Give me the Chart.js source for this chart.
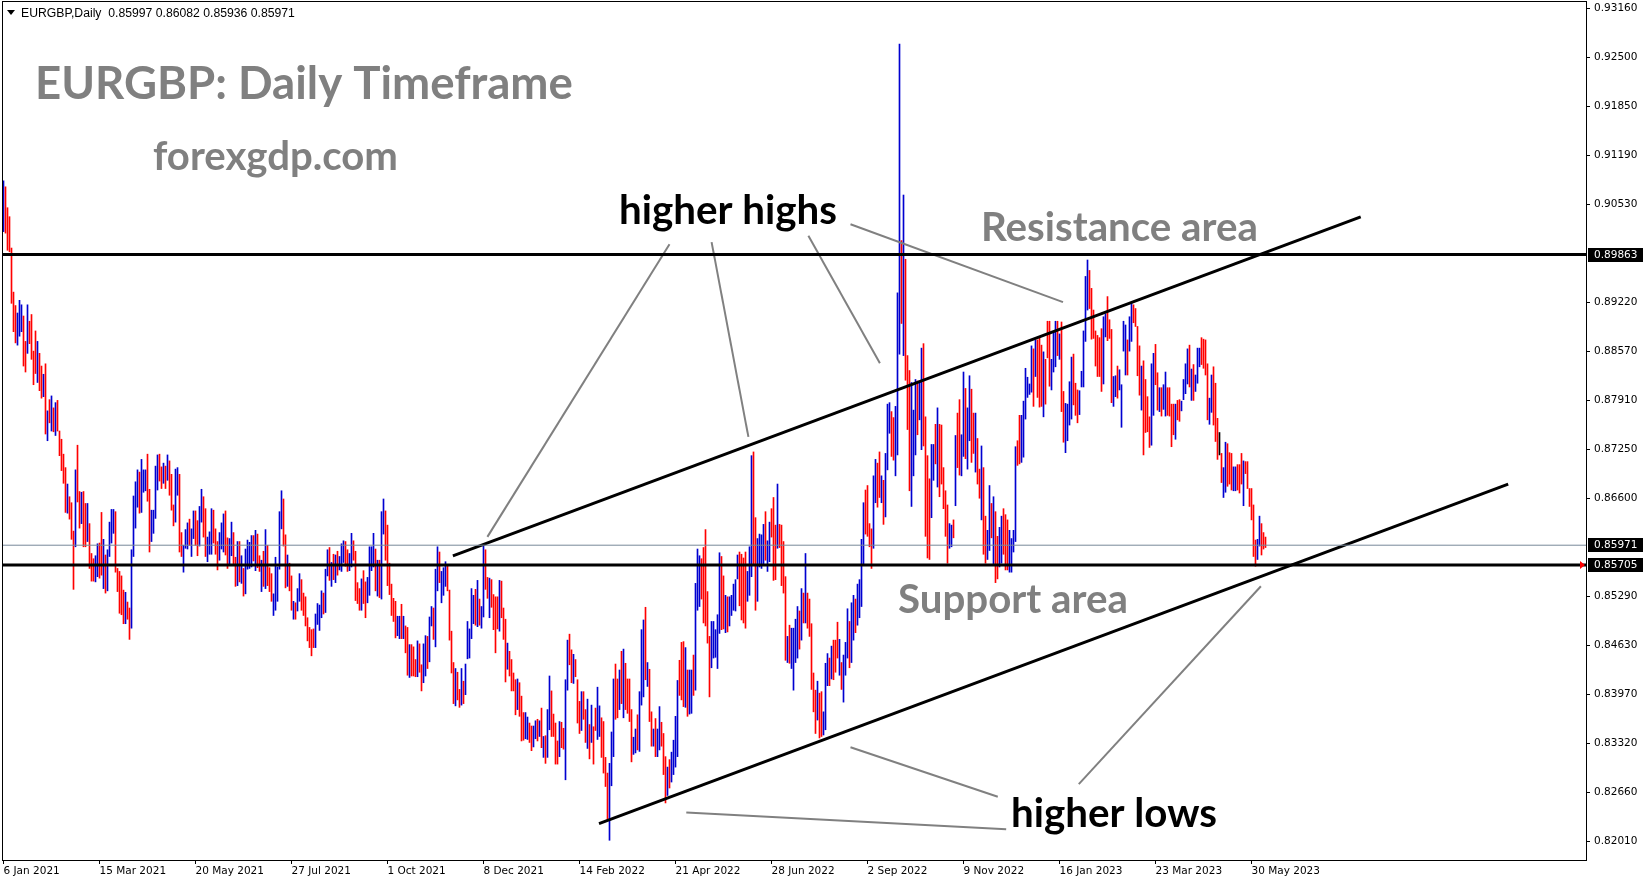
<!DOCTYPE html>
<html>
<head>
<meta charset="utf-8">
<title>EURGBP Daily</title>
<script src="https://cdn.jsdelivr.net/npm/chart.js@4.4.1/dist/chart.umd.min.js"></script>
<style>
  html, body { margin: 0; padding: 0; background: #fff; }
  #wrap { position: relative; width: 1650px; height: 884px; }
</style>
</head>
<body>
<div id="wrap"><canvas id="chart" width="1650" height="884"></canvas></div>
<script>
// daily bar highs (one per trading day)
var highs = [
  0.9085,0.9077,0.9049,0.9037,0.8995,0.8936,0.8918,0.8908,0.8925,0.8919,
  0.8904,0.8870,0.8919,0.8897,0.8906,0.8857,0.8884,0.8870,0.8854,0.8837,
  0.8826,0.8840,0.8777,0.8792,0.8797,0.8781,0.8788,0.8791,0.8750,0.8739,
  0.8719,0.8701,0.8679,0.8662,0.8654,0.8616,0.8698,0.8731,0.8669,0.8668,
  0.8669,0.8653,0.8653,0.8626,0.8586,0.8579,0.8583,0.8599,0.8600,0.8641,
  0.8605,0.8584,0.8591,0.8628,0.8645,0.8645,0.8642,0.8566,0.8562,0.8556,
  0.8537,0.8534,0.8521,0.8513,0.8591,0.8663,0.8682,0.8698,0.8695,0.8712,
  0.8698,0.8698,0.8719,0.8672,0.8644,0.8644,0.8703,0.8718,0.8719,0.8702,
  0.8707,0.8703,0.8718,0.8710,0.8692,0.8651,0.8699,0.8701,0.8692,0.8614,
  0.8597,0.8618,0.8627,0.8632,0.8619,0.8643,0.8643,0.8630,0.8649,0.8672,
  0.8662,0.8646,0.8608,0.8615,0.8646,0.8644,
  0.8619,0.8602,0.8614,0.8627,0.8639,0.8643,0.8607,0.8606,0.8628,0.8614,
  0.8581,0.8602,0.8602,0.8583,0.8566,0.8592,0.8604,0.8601,0.8610,0.8610,
  0.8617,0.8612,0.8583,0.8577,0.8589,0.8618,0.8597,0.8567,0.8559,0.8532,
  0.8581,0.8568,0.8642,0.8670,0.8659,0.8611,0.8584,0.8573,0.8556,0.8522,
  0.8520,0.8539,0.8559,0.8551,0.8533,0.8528,0.8500,0.8487,0.8484,0.8485,
  0.8505,0.8519,0.8517,0.8536,0.8533,0.8565,0.8591,0.8594,0.8574,0.8585,
  0.8584,0.8589,0.8582,0.8599,0.8603,0.8602,0.8591,0.8586,0.8613,0.8603,
  0.8589,0.8547,0.8539,0.8552,0.8563,0.8548,0.8554,0.8595,0.8595,0.8613,
  0.8592,0.8577,0.8577,0.8642,0.8659,0.8643,0.8624,0.8573,0.8545,0.8526,
  0.8522,0.8502,0.8502,0.8518,0.8502,0.8489,0.8487,0.8464,0.8464,0.8461,
  0.8444,0.8469,0.8465,0.8437,0.8465,
  0.8476,0.8475,0.8501,0.8515,0.8513,0.8565,0.8595,0.8588,0.8562,0.8567,
  0.8575,0.8569,0.8537,0.8482,0.8440,0.8432,0.8427,0.8404,0.8432,0.8415,
  0.8438,0.8495,0.8485,0.8539,0.8530,0.8538,0.8550,0.8525,0.8515,0.8597,
  0.8591,0.8554,0.8553,0.8551,0.8531,0.8528,0.8528,0.8550,0.8549,0.8513,
  0.8498,0.8466,0.8455,0.8444,0.8426,0.8417,0.8418,0.8413,0.8395,0.8373,
  0.8373,0.8367,0.8359,0.8355,0.8355,0.8362,0.8364,0.8362,0.8379,0.8341,
  0.8342,0.8377,0.8422,0.8402,0.8371,0.8359,0.8335,0.8361,0.8360,0.8352,
  0.8417,0.8470,0.8478,0.8457,0.8451,0.8444,0.8417,0.8388,0.8401,0.8401,
  0.8377,0.8391,0.8357,0.8383,0.8354,0.8379,0.8407,0.8382,0.8366,0.8361,
  0.8313,0.8292,0.8305,0.8347,0.8418,0.8438,0.8418,0.8430,0.8455,0.8458,
  0.8439,0.8418,0.8418,0.8377,
  0.8340,0.8351,0.8370,0.8401,0.8484,0.8497,0.8514,0.8440,0.8431,0.8374,
  0.8351,0.8365,0.8351,0.8381,0.8360,0.8345,0.8314,0.8300,0.8310,0.8320,
  0.8336,0.8368,0.8416,0.8443,0.8467,0.8468,0.8460,0.8430,0.8430,0.8430,
  0.8450,0.8546,0.8592,0.8583,0.8579,0.8594,0.8618,0.8535,0.8475,0.8495,
  0.8495,0.8484,0.8504,0.8587,0.8582,0.8556,0.8530,0.8528,0.8528,0.8530,
  0.8545,0.8551,0.8584,0.8588,0.8585,0.8580,0.8588,0.8562,0.8595,0.8717,
  0.8722,0.8634,0.8606,0.8612,0.8611,0.8625,0.8642,0.8603,0.8628,0.8646,
  0.8661,0.8624,0.8679,0.8625,0.8624,0.8602,0.8555,0.8475,0.8490,0.8486,
  0.8486,0.8498,0.8515,0.8509,0.8539,0.8533,0.8586,0.8533,0.8525,0.8492,
  0.8426,0.8403,0.8415,0.8399,0.8401,0.8374,0.8439,0.8452,0.8446,0.8462,
  0.8470,0.8470,0.8494,0.8471,0.8440,0.8450,0.8467,0.8512,0.8495,
  0.8520,0.8530,0.8525,0.8545,0.8551,0.8605,0.8654,0.8671,0.8677,0.8626,
  0.8619,0.8690,0.8712,0.8707,0.8722,0.8690,0.8684,0.8720,0.8786,0.8788,
  0.8776,0.8768,0.8783,0.8935,0.9268,0.9005,0.9066,0.8980,0.8851,0.8831,
  0.8815,0.8778,0.8819,0.8817,0.8817,0.8861,0.8867,0.8769,0.8717,0.8686,
  0.8732,0.8732,0.8759,0.8781,0.8759,0.8758,0.8701,0.8670,0.8651,0.8626,
  0.8624,0.8631,0.8744,0.8774,0.8792,0.8745,0.8829,0.8807,0.8781,0.8824,
  0.8806,0.8774,0.8774,0.8740,0.8699,0.8730,0.8701,0.8636,0.8617,0.8677,
  0.8653,0.8662,0.8642,0.8609,0.8621,0.8636,0.8646,0.8638,0.8631,0.8617,
  0.8606,0.8617,0.8729,0.8737,0.8771,0.8771,0.8790,0.8834,0.8822,0.8813,
  0.8864,0.8860,0.8872,0.8872,0.8875,0.8865,0.8856,0.8846,0.8897,0.8897,
  0.8846,0.8882,0.8897,0.8897,0.8880,
  0.8896,0.8803,0.8787,0.8786,0.8816,0.8849,0.8853,0.8814,0.8805,0.8804,
  0.8830,0.8884,0.8957,0.8979,0.8965,0.8941,0.8912,0.8884,0.8878,0.8875,
  0.8887,0.8903,0.8907,0.8930,0.8899,0.8886,0.8823,0.8824,0.8837,0.8832,
  0.8812,0.8897,0.8892,0.8872,0.8903,0.8921,0.8919,0.8914,0.8890,0.8864,
  0.8837,0.8844,0.8819,0.8796,0.8769,0.8840,0.8854,0.8866,0.8828,0.8808,
  0.8808,0.8812,0.8829,0.8808,0.8808,0.8786,0.8786,0.8786,0.8791,0.8792,
  0.8790,0.8819,0.8840,0.8860,0.8865,0.8833,0.8839,0.8825,0.8861,0.8861,
  0.8875,0.8873,0.8872,0.8840,0.8794,0.8825,0.8836,0.8814,0.8767,0.8748,
  0.8720,0.8701,0.8735,0.8733,0.8721,0.8720,0.8702,0.8702,0.8705,0.8705,
  0.8720,0.8710,0.8709,0.8709,0.8673,0.8673,0.8651,0.8604,0.8605,0.8636,
  0.8626,0.8614,0.8608
];

var lows = [
  0.9017,0.9015,0.8992,0.8990,0.8921,0.8883,0.8868,0.8865,0.8877,0.8883,
  0.8837,0.8829,0.8854,0.8867,0.8846,0.8812,0.8827,0.8815,0.8804,0.8794,
  0.8796,0.8746,0.8737,0.8761,0.8750,0.8749,0.8744,0.8750,0.8717,0.8697,
  0.8680,0.8641,0.8640,0.8632,0.8605,0.8538,0.8595,0.8655,0.8620,0.8626,
  0.8595,0.8595,0.8602,0.8566,0.8549,0.8549,0.8548,0.8555,0.8553,0.8557,
  0.8539,0.8533,0.8536,0.8582,0.8600,0.8613,0.8561,0.8535,0.8506,0.8504,
  0.8492,0.8492,0.8498,0.8471,0.8486,0.8582,0.8620,0.8648,0.8640,0.8641,
  0.8668,0.8670,0.8656,0.8588,0.8602,0.8613,0.8633,0.8671,0.8683,0.8673,
  0.8680,0.8673,0.8684,0.8664,0.8644,0.8623,0.8628,0.8664,0.8588,0.8582,
  0.8561,0.8593,0.8592,0.8597,0.8582,0.8606,0.8597,0.8583,0.8596,0.8628,
  0.8608,0.8582,0.8575,0.8585,0.8585,0.8600,
  0.8585,0.8564,0.8577,0.8592,0.8588,0.8584,0.8566,0.8572,0.8583,0.8571,
  0.8542,0.8543,0.8548,0.8546,0.8529,0.8532,0.8565,0.8566,0.8568,0.8576,
  0.8563,0.8567,0.8562,0.8535,0.8542,0.8539,0.8543,0.8535,0.8522,0.8503,
  0.8510,0.8522,0.8565,0.8619,0.8596,0.8540,0.8542,0.8536,0.8510,0.8498,
  0.8498,0.8509,0.8522,0.8510,0.8503,0.8489,0.8469,0.8460,0.8449,0.8460,
  0.8460,0.8491,0.8483,0.8500,0.8505,0.8507,0.8556,0.8550,0.8542,0.8551,
  0.8547,0.8557,0.8564,0.8562,0.8574,0.8569,0.8562,0.8563,0.8568,0.8577,
  0.8523,0.8519,0.8510,0.8510,0.8519,0.8500,0.8520,0.8530,0.8563,0.8568,
  0.8536,0.8529,0.8527,0.8525,0.8612,0.8577,0.8543,0.8531,0.8503,0.8495,
  0.8473,0.8476,0.8472,0.8472,0.8472,0.8453,0.8423,0.8420,0.8422,0.8422,
  0.8421,0.8421,0.8427,0.8402,0.8413,
  0.8422,0.8432,0.8441,0.8489,0.8471,0.8461,0.8536,0.8547,0.8520,0.8530,
  0.8542,0.8536,0.8470,0.8426,0.8385,0.8382,0.8390,0.8380,0.8383,0.8385,
  0.8397,0.8445,0.8446,0.8472,0.8492,0.8490,0.8488,0.8490,0.8486,0.8501,
  0.8538,0.8526,0.8500,0.8514,0.8484,0.8453,0.8485,0.8482,0.8500,0.8471,
  0.8414,0.8431,0.8422,0.8402,0.8402,0.8370,0.8377,0.8368,0.8335,0.8336,
  0.8338,0.8337,0.8333,0.8322,0.8327,0.8338,0.8335,0.8341,0.8326,0.8313,
  0.8305,0.8313,0.8350,0.8341,0.8341,0.8304,0.8304,0.8314,0.8326,0.8324,
  0.8283,0.8403,0.8437,0.8413,0.8412,0.8421,0.8359,0.8345,0.8349,0.8364,
  0.8333,0.8325,0.8311,0.8333,0.8304,0.8349,0.8337,0.8341,0.8313,0.8292,
  0.8274,0.8229,0.8202,0.8275,0.8314,0.8364,0.8366,0.8377,0.8385,0.8366,
  0.8377,0.8372,0.8361,0.8307,
  0.8317,0.8319,0.8323,0.8321,0.8383,0.8394,0.8417,0.8408,0.8361,0.8328,
  0.8328,0.8314,0.8314,0.8323,0.8328,0.8290,0.8252,0.8262,0.8272,0.8280,
  0.8290,0.8300,0.8314,0.8396,0.8390,0.8381,0.8380,0.8368,0.8371,0.8372,
  0.8396,0.8403,0.8510,0.8515,0.8525,0.8493,0.8489,0.8466,0.8394,0.8433,
  0.8446,0.8447,0.8432,0.8479,0.8484,0.8485,0.8480,0.8481,0.8489,0.8503,
  0.8510,0.8509,0.8552,0.8516,0.8497,0.8493,0.8486,0.8522,0.8530,0.8555,
  0.8571,0.8510,0.8522,0.8568,0.8566,0.8571,0.8577,0.8562,0.8575,0.8608,
  0.8550,0.8551,0.8593,0.8594,0.8543,0.8533,0.8443,0.8440,0.8439,0.8432,
  0.8403,0.8440,0.8446,0.8458,0.8470,0.8493,0.8493,0.8486,0.8475,0.8404,
  0.8374,0.8345,0.8363,0.8339,0.8341,0.8343,0.8350,0.8409,0.8409,0.8418,
  0.8417,0.8427,0.8446,0.8423,0.8404,0.8387,0.8423,0.8446,0.8433,
  0.8440,0.8470,0.8480,0.8490,0.8500,0.8515,0.8571,0.8612,0.8609,0.8595,
  0.8566,0.8593,0.8654,0.8648,0.8661,0.8654,0.8625,0.8635,0.8698,0.8747,
  0.8716,0.8711,0.8690,0.8718,0.8853,0.8894,0.8851,0.8818,0.8752,0.8670,
  0.8649,0.8690,0.8718,0.8745,0.8765,0.8725,0.8730,0.8609,0.8580,0.8578,
  0.8634,0.8684,0.8706,0.8675,0.8662,0.8679,0.8646,0.8609,0.8573,0.8593,
  0.8595,0.8607,0.8650,0.8701,0.8691,0.8690,0.8716,0.8713,0.8699,0.8737,
  0.8708,0.8720,0.8695,0.8679,0.8660,0.8631,0.8585,0.8573,0.8578,0.8590,
  0.8607,0.8571,0.8547,0.8552,0.8568,0.8573,0.8585,0.8564,0.8564,0.8561,
  0.8561,0.8588,0.8602,0.8704,0.8706,0.8708,0.8715,0.8766,0.8795,0.8799,
  0.8802,0.8783,0.8823,0.8795,0.8782,0.8783,0.8769,0.8786,0.8848,0.8810,
  0.8805,0.8829,0.8836,0.8851,0.8846,
  0.8776,0.8735,0.8721,0.8737,0.8758,0.8766,0.8785,0.8771,0.8761,0.8772,
  0.8809,0.8809,0.8870,0.8912,0.8914,0.8873,0.8874,0.8837,0.8823,0.8823,
  0.8803,0.8813,0.8876,0.8871,0.8874,0.8788,0.8783,0.8796,0.8794,0.8805,
  0.8755,0.8857,0.8825,0.8825,0.8857,0.8870,0.8895,0.8890,0.8824,0.8798,
  0.8778,0.8718,0.8748,0.8749,0.8728,0.8731,0.8771,0.8812,0.8778,0.8776,
  0.8770,0.8779,0.8770,0.8771,0.8770,0.8729,0.8745,0.8739,0.8765,0.8763,
  0.8777,0.8792,0.8800,0.8813,0.8809,0.8791,0.8791,0.8803,0.8814,0.8836,
  0.8839,0.8834,0.8825,0.8765,0.8759,0.8775,0.8758,0.8736,0.8712,0.8718,
  0.8681,0.8661,0.8668,0.8676,0.8679,0.8671,0.8670,0.8670,0.8671,0.8667,
  0.8679,0.8650,0.8693,0.8673,0.8649,0.8631,0.8582,0.8569,0.8578,0.8596,
  0.8584,0.8592,0.8594
];

// B = up bar (blue), R = down bar (red), N = unchanged (black)
var barDir = [
  'BRRRRRRBBB', 'RRBRRRRBRR', 'BRBRBRBRRR', 'RRBRRRBRRB', 'RRBRRRBBRR',
  'BRBBBBRRRR', 'RBRRBBBBRB', 'BBRRBBBBRR', 'BRBRRRBBRR', 'BBBRBBRRBB', 'RRBBBR',
  'RRBBBRRBBR', 'RBRBRBBBBR', 'BRRBRBRRRB', 'BBBBRRBRRB', 'RBBRRRRRRR',
  'BBBBRBBRBR', 'BRBBBRRBBR', 'RRRBRRBBBB', 'RBRBBRRRRR', 'RBBRBRRBRR', 'RBRRB',
  'BRBBRBBRBB', 'BRRRRBRRBR', 'BBBBBRBRBB', 'RRBRRRRBRR', 'RBRRRRBRRR',
  'BBRRBBRBRB', 'RBBRRRRBRR', 'BBRRBRRRBR', 'RBRBRRBBRR', 'RRBBBRRBRB', 'RRRR',
  'BBRBBBRBRR', 'BRBBRRRBRB', 'BBBRRRBRBB', 'RBBBRRRRRB', 'BBBBRRBRBB',
  'BBBRRRRBBB', 'RRBBBBRBBR', 'RRBRRRRBRB', 'BBBRBRBRRR', 'RRBRRBBBRB', 'RRRBRBBBR',
  'BBRBBBBRRR', 'RBBRRBRBBB', 'RRBBBRBRRR', 'BBBRBBRRRR', 'BBRBRRRRRB',
  'BRBRRBBRBB', 'RRBRRBRRBB', 'RBRRBBRRRB', 'BBBRRBBBBB', 'BRBRRRBRRR', 'BBBRB',
  'RRBBBBRRRB', 'BBBBRRRRRR', 'RBBRRRBBRB', 'BBBRBBRRRR', 'BRRRRBBRRB',
  'RBBRRRRBRR', 'BBBBRBRBBB', 'RRRRBBRRRN', 'RBBRRRBBRR', 'RBRRRRRRBB', 'RRR'
].join('');

var xTickIdx = [0, 48, 96, 144, 192, 240, 288, 336, 384, 432, 480, 528, 576, 624];
var xTickLabels = ['6 Jan 2021', '15 Mar 2021', '20 May 2021', '27 Jul 2021', '1 Oct 2021',
  '8 Dec 2021', '14 Feb 2022', '21 Apr 2022', '28 Jun 2022', '2 Sep 2022', '9 Nov 2022',
  '16 Jan 2023', '23 Mar 2023', '30 May 2023'];
var yTickValues = [0.93160, 0.92500, 0.91850, 0.91190, 0.90530, 0.89220, 0.88570, 0.87910,
  0.87250, 0.86600, 0.85290, 0.84630, 0.83970, 0.83320, 0.82660, 0.82010];

var lastOhlc = ['0.85997', '0.86082', '0.85936', '0.85971'];
var resistanceLevel = 0.89863;
var supportLevel = 0.85705;
var lastPrice = 0.85971;

// channel lines [bar index, price]
var upperChannel = [[224.7, 0.85829], [678.6, 0.90367]];
var lowerChannel = [[297.75, 0.82243], [752.35, 0.86789]];
// grey pointer lines from the labels to the swing points
var pointerLines = [
  [[333.0, 0.90001], [241.95, 0.86083]],
  [[354.05, 0.90030], [372.45, 0.87422]],
  [[402.45, 0.90114], [438.2, 0.88409]],
  [[423.5, 0.90269], [529.75, 0.89226]],
  [[423.5, 0.83266], [497.15, 0.82603]],
  [[341.4, 0.82392], [501.35, 0.82167]],
  [[628.7, 0.85422], [537.65, 0.82772]]
];

var X_MIN = -0.75, X_MAX = 791.25;
var Y_MIN = 0.81756, Y_MAX = 0.93258;

var UP_COLOR = '#0000d0';
var DOWN_COLOR = '#ff0000';
var NOTE_GREY = '#808080';

var texts = [
  { text: 'EURGBP: Daily Timeframe', x: 35, y: 99, width: 538, color: NOTE_GREY },
  { text: 'forexgdp.com', x: 153, y: 170, width: 245, color: NOTE_GREY },
  { text: 'higher highs', x: 619, y: 224, width: 218, color: '#000000' },
  { text: 'Resistance area', x: 981, y: 241, width: 277, color: NOTE_GREY },
  { text: 'Support area', x: 898, y: 613, width: 230, color: NOTE_GREY },
  { text: 'higher lows', x: 1011, y: 827, width: 206, color: '#000000' }
];

function segment(points, color, width) {
  return {
    type: 'line',
    data: points.map(function (p) { return { x: p[0], y: p[1] }; }),
    borderColor: color,
    borderWidth: width,
    pointRadius: 0,
    fill: false,
    tension: 0,
    clip: 0,
    order: 0
  };
}

function drawFitted(ctx, t, family, weight) {
  ctx.font = weight + ' 40px ' + family;
  var w = ctx.measureText(t.text).width;
  var size = 40 * t.width / w;
  ctx.font = weight + ' ' + size.toFixed(2) + 'px ' + family;
  ctx.fillStyle = t.color;
  ctx.textAlign = 'left';
  ctx.textBaseline = 'alphabetic';
  ctx.fillText(t.text, t.x, t.y);
}

// stop the axes from adding room for half a tick label at the ends
function noEndPadding(scale) {
  scale.paddingTop = 0;
  scale.paddingBottom = 0;
  scale.paddingLeft = 0;
  scale.paddingRight = 0;
}

var overlayPlugin = {
  id: 'overlay',
  afterDraw: function (chart) {
    var ctx = chart.ctx;
    var area = chart.chartArea;
    var yScale = chart.scales.y;

    ctx.save();
    // frame
    ctx.strokeStyle = '#000';
    ctx.lineWidth = 1;
    ctx.strokeRect(area.left + 0.5, area.top + 0.5, area.right - area.left, area.bottom - area.top);

    // header line
    ctx.fillStyle = '#000';
    ctx.beginPath();
    ctx.moveTo(7, 10);
    ctx.lineTo(15, 10);
    ctx.lineTo(11, 15);
    ctx.closePath();
    ctx.fill();
    drawFitted(ctx, { text: 'EURGBP,Daily  ' + lastOhlc.join(' '), x: 21, y: 17, width: 274, color: '#000' },
      '"Liberation Sans", Arial, sans-serif', 'normal');

    // annotation texts
    texts.forEach(function (t) {
      drawFitted(ctx, t, 'Lato, "Open Sans", sans-serif', 'bold');
    });

    // price boxes on the axis
    ctx.font = '10.5px "DejaVu Sans", sans-serif';
    ctx.textBaseline = 'middle';
    [resistanceLevel, lastPrice, supportLevel].forEach(function (v) {
      var py = Math.round(yScale.getPixelForValue(v));
      ctx.fillStyle = '#000';
      ctx.fillRect(area.right + 2, py - 7, 55, 14);
      ctx.fillStyle = '#fff';
      ctx.fillText(v.toFixed(5), area.right + 8, py + 0.5);
    });

    // small red marker at the support line end
    var sy = yScale.getPixelForValue(supportLevel);
    ctx.fillStyle = '#ff0000';
    ctx.beginPath();
    ctx.moveTo(area.right - 6, sy - 4);
    ctx.lineTo(area.right - 6, sy + 4);
    ctx.lineTo(area.right - 1, sy);
    ctx.closePath();
    ctx.fill();
    ctx.restore();
  }
};

var barData = highs.map(function (h, i) {
  return { x: i, y: [lows[i], h] };
});
var barColors = barDir.split('').map(function (c) {
  if (c === 'B') return UP_COLOR;
  if (c === 'R') return DOWN_COLOR;
  return '#000000';
});

var datasets = [
  {
    type: 'bar',
    data: barData,
    backgroundColor: barColors,
    borderWidth: 0,
    barThickness: 1,
    order: 10
  },
  segment([[X_MIN, lastPrice], [X_MAX, lastPrice]], '#778899', 1),
  segment([[X_MIN, resistanceLevel], [X_MAX, resistanceLevel]], '#000000', 3),
  segment([[X_MIN, supportLevel], [X_MAX, supportLevel]], '#000000', 3),
  segment(upperChannel, '#000000', 3),
  segment(lowerChannel, '#000000', 3)
];
pointerLines.forEach(function (p) {
  datasets.push(segment(p, NOTE_GREY, 2));
});

new Chart(document.getElementById('chart'), {
  type: 'bar',
  data: { datasets: datasets },
  options: {
    responsive: false,
    animation: false,
    events: [],
    layout: { padding: { left: 2, top: 1, right: 0, bottom: 0 } },
    plugins: {
      legend: { display: false },
      tooltip: { enabled: false }
    },
    scales: {
      x: {
        type: 'linear',
        min: X_MIN,
        max: X_MAX,
        offset: false,
        bounds: 'data',
        afterBuildTicks: function (scale) {
          scale.ticks = xTickIdx.map(function (v) { return { value: v }; });
        },
        afterFit: function (scale) {
          scale.height = 24;
          noEndPadding(scale);
        },
        grid: { drawOnChartArea: false, drawTicks: true, tickLength: 4, color: '#000', offset: false },
        border: { display: false },
        ticks: {
          autoSkip: false,
          maxRotation: 0,
          minRotation: 0,
          align: 'start',
          padding: 1,
          color: '#000',
          font: { family: '"DejaVu Sans", sans-serif', size: 10.5 },
          callback: function (value, index) { return xTickLabels[index]; }
        }
      },
      y: {
        type: 'linear',
        position: 'right',
        min: Y_MIN,
        max: Y_MAX,
        bounds: 'data',
        afterBuildTicks: function (scale) {
          scale.ticks = yTickValues.map(function (v) { return { value: v }; });
        },
        afterFit: function (scale) {
          scale.width = 64;
          noEndPadding(scale);
        },
        grid: { drawOnChartArea: false, drawTicks: true, tickLength: 4, color: '#000' },
        border: { display: false },
        ticks: {
          autoSkip: false,
          padding: 4,
          color: '#000',
          font: { family: '"DejaVu Sans", sans-serif', size: 10.5 },
          callback: function (value) { return value.toFixed(5); }
        }
      }
    }
  },
  plugins: [overlayPlugin]
});
</script>
</body>
</html>
